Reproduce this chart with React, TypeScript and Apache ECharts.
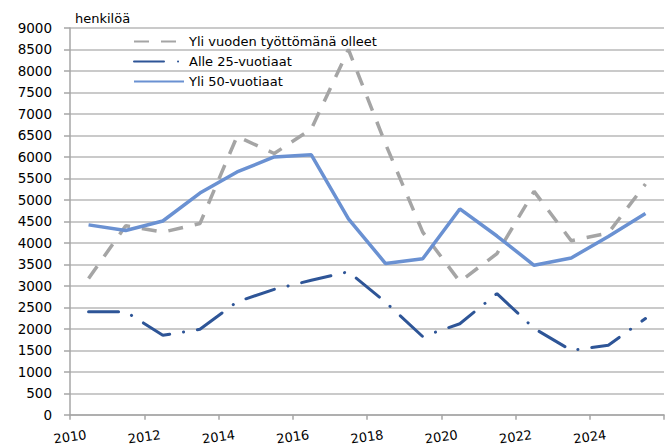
import React, { useEffect, useRef } from "react";
import * as echarts from "echarts";

const years = ["2010","2011","2012","2013","2014","2015","2016","2017","2018","2019","2020","2021","2022","2023","2024","2025"];
const yliVuoden = [3170, 4400, 4250, 4450, 6480, 6080, 6650, 8500, 6300, 4250, 3100, 3750, 5200, 4050, 4230, 5370];
const alle25 = [2400, 2400, 1850, 1990, 2630, 2920, 3130, 3330, 2620, 1820, 2120, 2820, 2010, 1500, 1620, 2240];
const yli50 = [4420, 4290, 4510, 5160, 5650, 6000, 6050, 4560, 3520, 3630, 4790, 4160, 3480, 3650, 4150, 4685];
const tickYears = [2010, 2012, 2014, 2016, 2018, 2020, 2022, 2024];
const names = ["Yli vuoden työttömänä olleet", "Alle 25-vuotiaat", "Yli 50-vuotiaat"];
const unitLabel = "henkilöä";

const FONT = "DejaVu Sans";

export default function App() {
  const ref = useRef<HTMLDivElement>(null);
  useEffect(() => {
    if (!ref.current) return;
    const chart = echarts.init(ref.current, null, { renderer: "svg" });
    chart.setOption({
      animation: false,
      textStyle: { fontFamily: FONT },
      grid: { left: 70, right: 1, top: 28, bottom: 28, containLabel: false },
      graphic: [
        { type: "text", left: 75, top: 12, style: { text: unitLabel, fontFamily: FONT, fontSize: 13, fill: "#000" } },
      ],
      legend: {
        orient: "vertical",
        left: 128,
        top: 30,
        itemWidth: 50,
        itemHeight: 14,
        itemGap: 7,
        itemStyle: { opacity: 0 },
        textStyle: { fontFamily: FONT, fontSize: 13, color: "#000" },
        data: names,
      },
      xAxis: [
        {
          type: "category",
          data: years,
          boundaryGap: true,
          axisLine: { lineStyle: { color: "#A6A6A6", width: 1.5 } },
          axisTick: { show: true, length: 5, lineStyle: { color: "#A6A6A6", width: 1.5 } },
          axisLabel: { show: false },
          splitLine: { show: false },
        },
        {
          type: "value",
          min: 2010,
          max: 2026,
          interval: 2,
          position: "bottom",
          axisLine: { show: false },
          axisTick: { show: false },
          splitLine: { show: false },
          axisLabel: {
            show: true,
            rotate: 8,
            align: "center",
            verticalAlign: "middle",
            margin: 22,
            fontFamily: FONT,
            fontSize: 13,
            color: "#000",
            formatter: (v: number) => (tickYears.indexOf(v) >= 0 ? String(v) : ""),
          },
        },
      ],
      yAxis: {
        type: "value",
        min: 0,
        max: 9000,
        interval: 500,
        axisLine: { show: true, lineStyle: { color: "#A6A6A6", width: 1.5 } },
        axisTick: { show: true, length: 6, lineStyle: { color: "#A6A6A6", width: 1.5 } },
        axisLabel: { margin: 18, fontFamily: FONT, fontSize: 13.5, color: "#000", formatter: (v: number) => String(v) },
        splitLine: { show: true, lineStyle: { color: "#B8B8B8", width: 1.5 } },
      },
      series: [
        {
          name: names[0],
          type: "line",
          data: yliVuoden,
          symbol: "none",
          color: "#A5A5A5",
          lineStyle: { color: "#A5A5A5", width: 3.5, type: [15, 12], cap: "butt" },
          z: 2,
        },
        {
          name: names[1],
          type: "line",
          data: alle25,
          symbol: "none",
          color: "#2E5597",
          lineStyle: { color: "#2E5597", width: 3, type: [30, 14, 0.1, 14], cap: "round" },
          z: 3,
        },
        {
          name: names[2],
          type: "line",
          data: yli50,
          symbol: "none",
          color: "#6A91D2",
          lineStyle: { color: "#6A91D2", width: 3.5 },
          z: 4,
        },
      ],
    });
    return () => chart.dispose();
  }, []);
  return <div ref={ref} style={{ width: 667, height: 446, position: "absolute", left: 0, top: 0 }} />;
}
